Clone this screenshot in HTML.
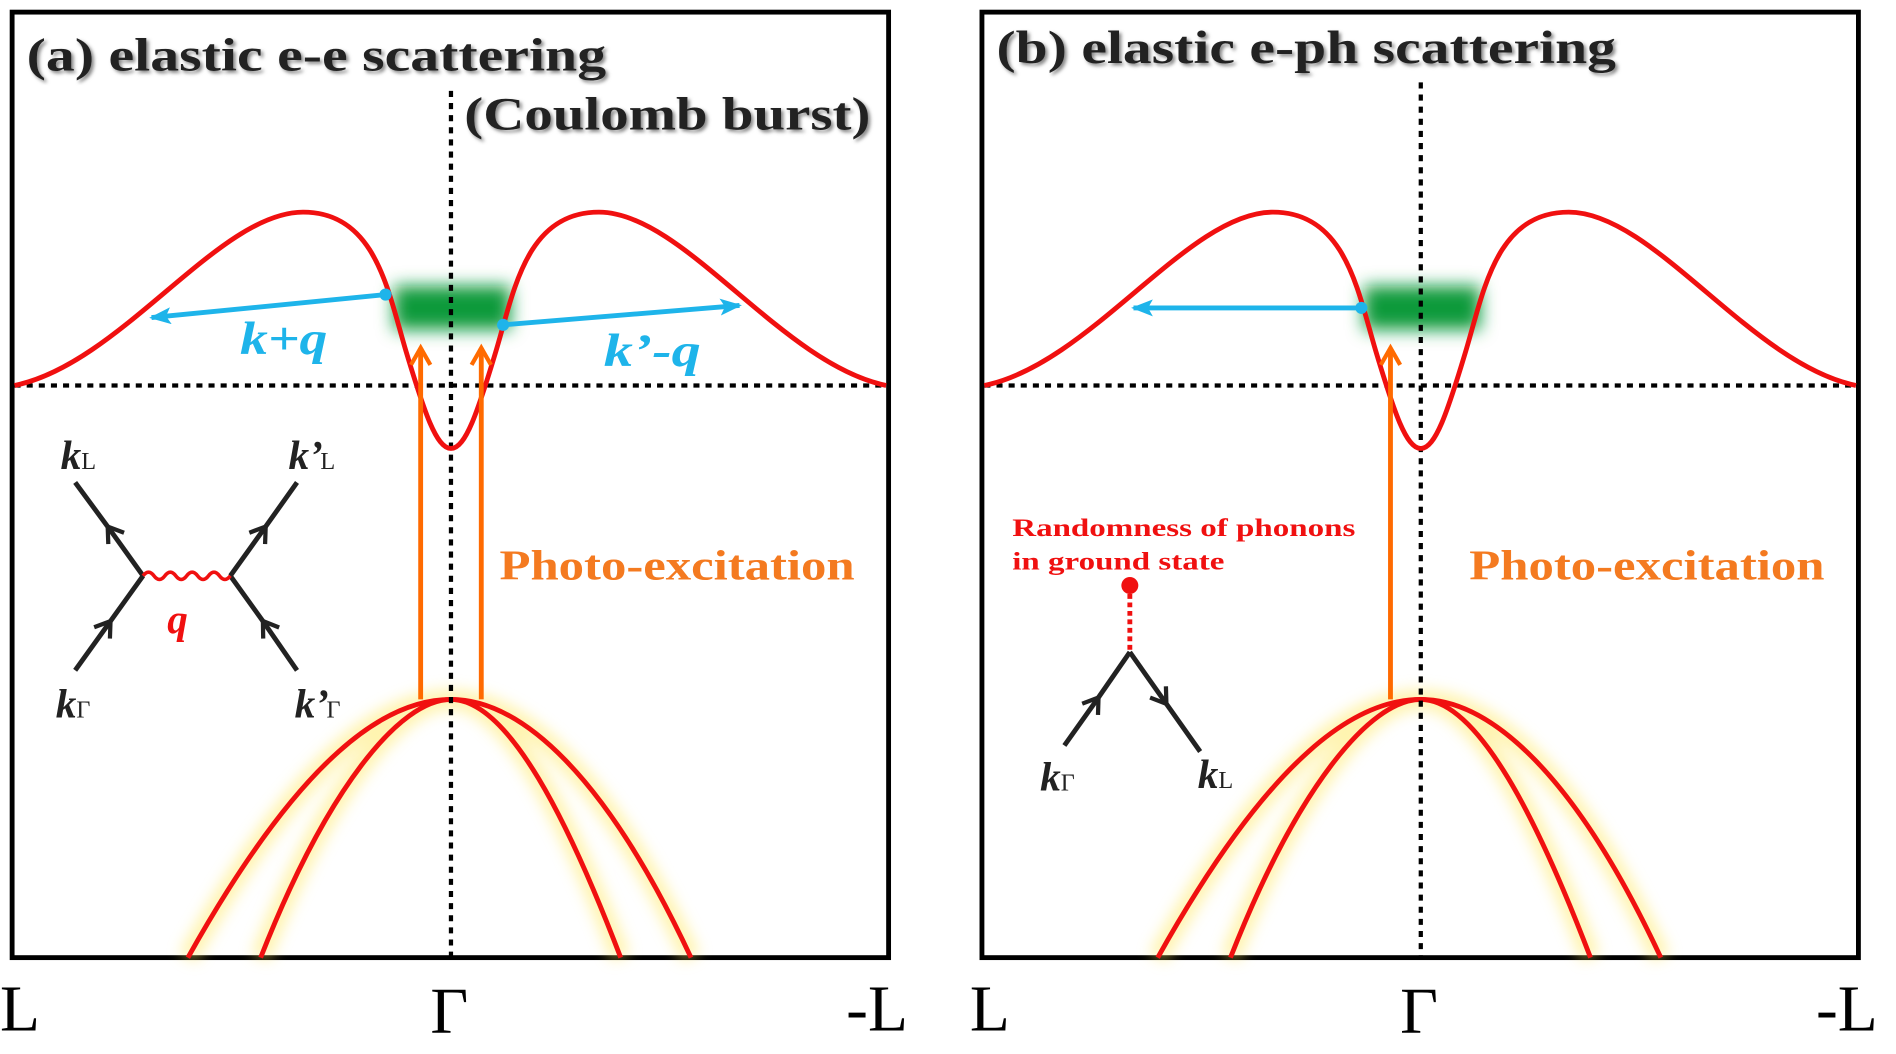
<!DOCTYPE html>
<html><head><meta charset="utf-8"><style>
html,body{margin:0;padding:0;background:#fff;}
svg{display:block;}
.t{font-family:"Liberation Serif",serif;font-weight:bold;}
</style></head><body>
<svg width="1896" height="1054" viewBox="0 0 1564 869.5" preserveAspectRatio="none" xmlns="http://www.w3.org/2000/svg">
<defs>
<filter id="glow" x="-20%" y="-20%" width="140%" height="140%"><feGaussianBlur stdDeviation="6"/></filter>
<filter id="gb" x="-30%" y="-60%" width="160%" height="220%"><feGaussianBlur stdDeviation="7"/></filter>
<filter id="sh"><feDropShadow dx="2" dy="2" stdDeviation="1.5" flood-color="#888"/></filter>
<marker id="ab" markerWidth="18" markerHeight="14" refX="16" refY="7" orient="auto" markerUnits="userSpaceOnUse" viewBox="0 0 18 14"><path d="M0,0 L18,7 L0,14 L4,7 Z" fill="#1eb4ea"/></marker>
<marker id="ao" markerWidth="20" markerHeight="20" refX="16" refY="10" orient="auto" markerUnits="userSpaceOnUse" viewBox="0 0 20 20"><path d="M2,2 L16,10 L2,18" fill="none" stroke="#ff6a00" stroke-width="3.5"/></marker>
<marker id="ak" markerWidth="20" markerHeight="20" refX="12" refY="10" orient="auto" markerUnits="userSpaceOnUse" viewBox="0 0 20 20"><path d="M2,2 L14,10 L2,18" fill="none" stroke="#222" stroke-width="3.5"/></marker>
<g id="panel">
<rect x="10" y="10" width="723" height="780" fill="none" stroke="#000" stroke-width="4"/>
<line x1="12" y1="318" x2="731" y2="318" stroke="#000" stroke-width="3.5" stroke-dasharray="5,5"/>
<g filter="url(#glow)" opacity="0.5">
<path d="M155,790 C250,620 320,577 372,577 C420,577 470,680 512,790" fill="none" stroke="#ffe860" stroke-width="16"/>
<path d="M215,790 C270,650 330,577 372,577 C430,577 500,640 570,790" fill="none" stroke="#ffe860" stroke-width="16"/>
</g>
<path d="M155,790 C250,620 320,577 372,577 C420,577 470,680 512,790" fill="none" stroke="#f01010" stroke-width="4"/>
<path d="M215,790 C270,650 330,577 372,577 C430,577 500,640 570,790" fill="none" stroke="#f01010" stroke-width="4"/>
<text class="t" x="0" y="850" font-size="54" style="font-weight:normal">L</text>
<text class="t" x="355" y="852" font-size="54" style="font-weight:normal">Γ</text>
<text class="t" x="698" y="850" font-size="54" style="font-weight:normal">-L</text>
</g>
<path id="cb" d="M12,318 C100,300 180,175 250,175 C310,175 320,240 335,290 C350,340 360,370 372,370 C384,370 394,340 409,290 C424,240 434,175 494,175 C564,175 644,300 731,318" fill="none" stroke="#f01010" stroke-width="4"/>
</defs>

<use href="#panel"/>
<rect x="325" y="236" width="96" height="36" fill="#0a9a3a" filter="url(#gb)"/>
<line x1="372" y1="75" x2="372" y2="790" stroke="#000" stroke-width="3.5" stroke-dasharray="5,5"/>
<use href="#cb"/>
<line x1="347" y1="577" x2="347" y2="287" stroke="#ff6a00" stroke-width="4" marker-end="url(#ao)"/>
<line x1="397" y1="577" x2="397" y2="287" stroke="#ff6a00" stroke-width="4" marker-end="url(#ao)"/>
<line x1="318" y1="243" x2="125" y2="262" stroke="#1eb4ea" stroke-width="4" marker-end="url(#ab)"/>
<circle cx="318" cy="243" r="5" fill="#1eb4ea"/>
<line x1="415" y1="268" x2="610" y2="252" stroke="#1eb4ea" stroke-width="4" marker-end="url(#ab)"/>
<circle cx="415" cy="268" r="5" fill="#1eb4ea"/>
<text class="t" x="198" y="292" font-size="38" fill="#1eb4ea" font-style="italic" textLength="72" lengthAdjust="spacingAndGlyphs">k+q</text>
<text class="t" x="498" y="302" font-size="38" fill="#1eb4ea" font-style="italic" textLength="80" lengthAdjust="spacingAndGlyphs">k’-q</text>
<text class="t" x="412" y="478" font-size="35" fill="#f47a20" textLength="293" lengthAdjust="spacingAndGlyphs">Photo-excitation</text>
<text class="t" x="22" y="58" font-size="38" fill="#222" filter="url(#sh)" textLength="478" lengthAdjust="spacingAndGlyphs">(a) elastic e-e scattering</text>
<text class="t" x="383" y="107" font-size="38" fill="#222" filter="url(#sh)" textLength="335" lengthAdjust="spacingAndGlyphs">(Coulomb burst)</text>
<g stroke="#222" stroke-width="4" fill="none">
<path d="M62,553 L90,514" marker-end="url(#ak)"/><path d="M90,514 L118,475"/>
<path d="M118,475 L90,436" marker-end="url(#ak)"/><path d="M90,436 L62,398"/>
<path d="M190,475 L218,436" marker-end="url(#ak)"/><path d="M218,436 L245,398"/>
<path d="M245,553 L218,514" marker-end="url(#ak)"/><path d="M218,514 L190,475"/>
</g>
<path d="M118,475 q4.5,-6 9,0 t9,0 t9,0 t9,0 t9,0 t9,0 t9,0 t9,0" fill="none" stroke="#f01010" stroke-width="3"/>
<text class="t" x="138" y="522" font-size="34" fill="#f01010" font-style="italic">q</text>
<text class="t" x="50" y="387" font-size="34" fill="#222" font-style="italic">k<tspan font-size="20" font-style="normal" style="font-weight:normal">L</tspan></text>
<text class="t" x="238" y="387" font-size="34" fill="#222" font-style="italic">k’<tspan font-size="20" font-style="normal" style="font-weight:normal" dx="-2">L</tspan></text>
<text class="t" x="46" y="592" font-size="34" fill="#222" font-style="italic">k<tspan font-size="20" font-style="normal" style="font-weight:normal">Γ</tspan></text>
<text class="t" x="243" y="592" font-size="34" fill="#222" font-style="italic">k’<tspan font-size="20" font-style="normal" style="font-weight:normal" dx="-2">Γ</tspan></text>

<g transform="translate(800,0)"><use href="#panel"/></g>
<rect x="1125" y="236" width="96" height="36" fill="#0a9a3a" filter="url(#gb)"/>
<line x1="1172" y1="68" x2="1172" y2="790" stroke="#000" stroke-width="3.5" stroke-dasharray="5,5"/>
<g transform="translate(800,0)"><use href="#cb"/></g>
<line x1="1147" y1="577" x2="1147" y2="287" stroke="#ff6a00" stroke-width="4" marker-end="url(#ao)"/>
<line x1="1123" y1="254" x2="935" y2="254" stroke="#1eb4ea" stroke-width="4" marker-end="url(#ab)"/>
<circle cx="1123" cy="254" r="5" fill="#1eb4ea"/>
<text class="t" x="1212" y="478" font-size="35" fill="#f47a20" textLength="293" lengthAdjust="spacingAndGlyphs">Photo-excitation</text>
<text class="t" x="822" y="52" font-size="38" fill="#222" filter="url(#sh)" textLength="511" lengthAdjust="spacingAndGlyphs">(b) elastic e-ph scattering</text>
<text class="t" x="835" y="442" font-size="21" fill="#f01010" textLength="283" lengthAdjust="spacingAndGlyphs">Randomness of phonons</text>
<text class="t" x="835" y="470" font-size="21" fill="#f01010" textLength="175" lengthAdjust="spacingAndGlyphs">in ground state</text>
<circle cx="932" cy="483" r="7" fill="#f01010"/>
<line x1="932" y1="490" x2="932" y2="538" stroke="#f01010" stroke-width="4" stroke-dasharray="4,3"/>
<g stroke="#222" stroke-width="4" fill="none">
<path d="M878,615 L905,577" marker-end="url(#ak)"/><path d="M905,577 L932,538"/>
<path d="M932,538 L961,579" marker-end="url(#ak)"/><path d="M961,579 L990,620"/>
</g>
<text class="t" x="858" y="652" font-size="34" fill="#222" font-style="italic">k<tspan font-size="20" font-style="normal" style="font-weight:normal">Γ</tspan></text>
<text class="t" x="988" y="650" font-size="34" fill="#222" font-style="italic">k<tspan font-size="20" font-style="normal" style="font-weight:normal">L</tspan></text>
</svg>
</body></html>
